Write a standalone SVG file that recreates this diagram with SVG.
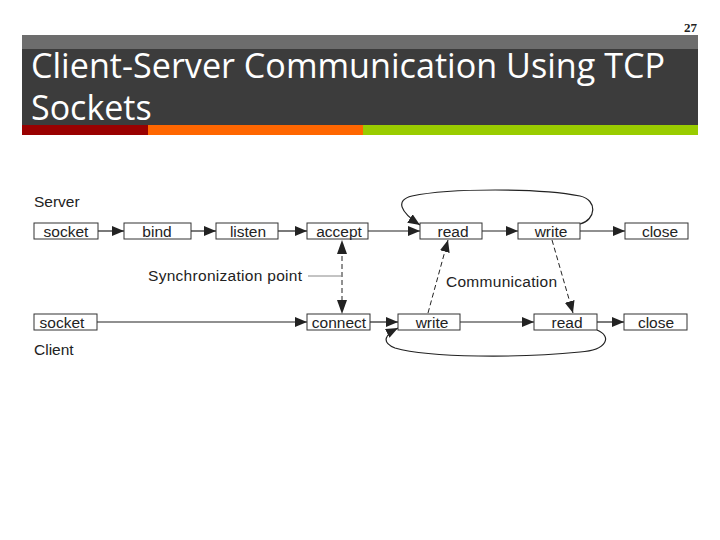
<svg xmlns="http://www.w3.org/2000/svg" width="720" height="540" viewBox="0 0 720 540">
<style>
.box{fill:#fff;stroke:#333;stroke-width:1}
.lbl{font-family:"Liberation Sans",Arial,sans-serif;font-size:15.5px;fill:#222;text-anchor:middle}
.txt{font-family:"Liberation Sans",Arial,sans-serif;font-size:15.5px;fill:#222}
.ln{fill:none;stroke:#222;stroke-width:1.2}
.dash{fill:none;stroke:#222;stroke-width:1;stroke-dasharray:5,3}
.title{font-family:"Open Sans","Noto Sans",sans-serif;font-size:34px;fill:#fff}
</style>
<defs>
<marker id="ah" viewBox="0 0 12 10" refX="12" refY="5" markerWidth="12" markerHeight="10" markerUnits="userSpaceOnUse" orient="auto">
<path d="M0,0 L12,5 L0,10 Z" fill="#222"/>
</marker>
</defs>
<rect width="720" height="540" fill="#fff"/>
<g id="header">
<rect x="22" y="35" width="676" height="14" fill="#6d6d6d"/>
<rect x="22" y="49" width="676" height="76" fill="#3c3c3c"/>
<rect x="22" y="125" width="126" height="10" fill="#990000"/>
<rect x="148" y="125" width="215" height="10" fill="#ff6600"/>
<rect x="363" y="125" width="335" height="10" fill="#99cc00"/>
<text class="title" x="31" y="78" textLength="634" lengthAdjust="spacingAndGlyphs">Client-Server Communication Using TCP</text>
<text class="title" x="31" y="120">Sockets</text>
<text x="697" y="32" font-family="'Liberation Serif',serif" font-size="13" font-weight="bold" fill="#222" text-anchor="end">27</text>
</g>
<text class="txt" x="34" y="207">Server</text>
<text class="txt" x="34" y="355">Client</text>
<text class="txt" x="148" y="281" textLength="154">Synchronization point</text>
<text class="txt" x="446" y="287" textLength="111">Communication</text>
<g id="connectors">
<line class="ln" x1="98" y1="231" x2="124" y2="231" marker-end="url(#ah)"/>
<line class="ln" x1="191" y1="231" x2="216" y2="231" marker-end="url(#ah)"/>
<line class="ln" x1="278" y1="231" x2="307" y2="231" marker-end="url(#ah)"/>
<line class="ln" x1="368" y1="231" x2="420" y2="231" marker-end="url(#ah)"/>
<line class="ln" x1="482" y1="231" x2="518" y2="231" marker-end="url(#ah)"/>
<line class="ln" x1="580" y1="231" x2="625" y2="231" marker-end="url(#ah)"/>
<line class="ln" x1="97" y1="322" x2="307" y2="322" marker-end="url(#ah)"/>
<line class="ln" x1="370" y1="322" x2="398" y2="322" marker-end="url(#ah)"/>
<line class="ln" x1="460" y1="322" x2="534" y2="322" marker-end="url(#ah)"/>
<line class="ln" x1="597" y1="322" x2="624" y2="322" marker-end="url(#ah)"/>
<path class="ln" d="M580,224 C596,220 598,200 580,196 C540,188 450,188 412,196 C395,200 400,212 420,225" marker-end="url(#ah)"/>
<path class="ln" d="M597,330 C612,336 608,350 580,352 C520,358 430,358 395,348 C380,342 386,334 398,328" marker-end="url(#ah)"/>
<line class="dash" x1="342" y1="256" x2="342" y2="302"/>
<path d="M342,240 L337,254 L347,254 Z" fill="#222"/>
<path d="M342,314 L337,300 L347,300 Z" fill="#222"/>
<line x1="308" y1="276" x2="342" y2="276" stroke="#888" stroke-width="1"/>
<line class="dash" x1="428" y1="313" x2="448" y2="240" marker-end="url(#ah)"/>
<line class="dash" x1="552" y1="240" x2="573" y2="313" marker-end="url(#ah)"/>
</g>
<g id="s_socket"><rect class="box" x="34" y="223" width="64" height="16"/><text class="lbl" x="66" y="237">socket</text></g>
<g id="s_bind"><rect class="box" x="124" y="223" width="67" height="16"/><text class="lbl" x="157" y="237">bind</text></g>
<g id="s_listen"><rect class="box" x="216" y="223" width="62" height="16"/><text class="lbl" x="248" y="237">listen</text></g>
<g id="s_accept"><rect class="box" x="307" y="223" width="61" height="16"/><text class="lbl" x="339" y="237">accept</text></g>
<g id="s_read"><rect class="box" x="420" y="223" width="62" height="16"/><text class="lbl" x="453" y="237">read</text></g>
<g id="s_write"><rect class="box" x="518" y="223" width="62" height="16"/><text class="lbl" x="551" y="237">write</text></g>
<g id="s_close"><rect class="box" x="625" y="223" width="63" height="16"/><text class="lbl" x="660" y="237">close</text></g>
<g id="c_socket"><rect class="box" x="34" y="314" width="63" height="16"/><text class="lbl" x="62" y="328">socket</text></g>
<g id="c_connect"><rect class="box" x="307" y="314" width="63" height="16"/><text class="lbl" x="339" y="328">connect</text></g>
<g id="c_write"><rect class="box" x="398" y="314" width="62" height="16"/><text class="lbl" x="432" y="328">write</text></g>
<g id="c_read"><rect class="box" x="534" y="314" width="63" height="16"/><text class="lbl" x="567" y="328">read</text></g>
<g id="c_close"><rect class="box" x="624" y="314" width="63" height="16"/><text class="lbl" x="656" y="328">close</text></g>
</svg>
